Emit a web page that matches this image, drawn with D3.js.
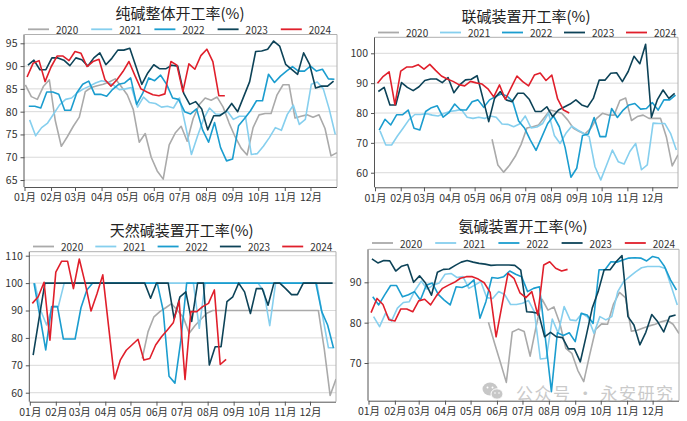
<!DOCTYPE html>
<html><head><meta charset="utf-8">
<script src="https://cdn.jsdelivr.net/npm/d3@7"></script>
<style>
body{margin:0;background:#fff}
svg text{font-family:"Noto Sans CJK SC","Noto Sans",sans-serif}
</style>
</head><body>
<svg id="chart" width="687" height="421"></svg>
<script>
// ---------------- data ----------------
const years = ["2020", "2021", "2022", "2023", "2024"];
const firstWeekDay = [1, 6, 5, 4, 3];          // day-of-year of each year's first weekly reading
const monthLabels = ["01月","02月","03月","04月","05月","06月","07月","08月","09月","10月","11月","12月"];
const monthStartDay = [0, 31, 59, 90, 120, 151, 181, 212, 243, 273, 304, 334];

// 纯碱整体开工率
const total2020 = [85.9,83.3,82.7,85.5,87,78,72.4,74.5,76.8,78.8,84.4,85.3,85.7,86,86.5,87.2,85.5,83.7,80.5,73.3,75.2,70,67,65.2,72.7,75.3,76.8,73.5,78.5,81.5,83,82.5,83.2,81,77.5,74.5,72,70.5,76.5,79.3,79.6,79.6,83.7,85.9,85.9,78.6,79,79.3,78.8,79.3,76.3,70.3,71];
const total2021 = [78.2,74.7,76.5,77.5,79.5,81.5,82.7,83,84.2,85,85.6,86.3,86.8,86.5,85.8,84.8,85,85.3,81,83.2,82,81.8,81,81.2,80.8,83,77,70.6,74.6,78.3,80.8,79.5,79.4,80.1,78.3,79,79,70.6,70.8,72.4,74.3,76.5,75.9,79.4,81.4,77.2,78.3,86,86.5,85,80.5,75];
const total2022 = [81.2,81.2,80.8,84.3,84.3,83.8,80.3,80.3,84.1,86,86.7,83.8,83.8,83.4,84.9,86,86.3,87.4,81.6,84,87.4,86.8,88,86,83,82.7,80,79.5,80.6,76,73.3,77.6,72.1,69.2,69.6,76.9,78.5,80.2,82.4,82.4,88.2,86.4,87.8,88.9,89.9,88.9,88.9,90,88.9,89.3,87.2,87.1];
const total2023 = [90.2,91.3,89.2,89.2,91.8,91.8,91.3,90.1,91.8,91.4,90,91.8,92.9,90.3,91.7,93.5,93.5,93.9,90,86,88.5,90.3,89.4,89.4,90.2,90,84,81.6,82.2,80.6,76,79.1,79.1,80,81.8,80,83.3,86.6,93.2,93.3,93.7,95.5,94.4,90.4,89.3,88.2,92.9,90.4,85.2,85.6,85.6,86.7];
const total2024 = [87.6,90.6,91.2,86.6,89.8,92.2,92.2,91.2,93.2,92.8,89.9,91,91.5,87,85.6,87,88.8,91,87.9,85,84.3,83.7,83.5,83.9,91,90.2,84.4,90.5,89.3,92.3,93.7,91,83.5,83.5];

// 联碱装置开工率
const lianjian2020 = [null,null,null,null,null,null,null,null,null,null,null,null,null,null,null,null,null,null,null,null,71.2,62.6,60.2,62.5,65.5,69.5,75,75.4,76,78.5,81,80.5,79.9,77.7,74.9,73.8,73,74.9,78.2,79.9,79.3,79.3,84.2,85,77.5,78.8,79.3,78.2,78.2,78.2,72,62.3,66];
const lianjian2021 = [74,69.3,69.3,72.3,75,77.8,79.5,79.5,79.8,79.3,79,79.8,80.5,80.8,81.2,78.6,78.2,78.6,78.2,79,78.6,76.3,76.2,75.4,76.3,79,75,75.3,76.5,80,72.5,69.8,73.2,75.6,74.3,73.2,72.1,62,57.6,62.6,67.6,63.7,62.9,67.1,69.8,61,62.6,76.6,76.5,76.5,73.2,67.6];
const lianjian2022 = [74.3,77.9,76,79.4,79.4,81,74.9,74.3,80.5,81.8,82.4,78.6,80.1,83,81,81,83.8,84.4,81.9,84.4,85.5,86.4,85.7,83.8,77.3,75,71,67.5,72,76.5,79,75.4,68.5,58.5,61.5,72.5,73,78.5,72.1,72.1,81.5,78.5,81,82.7,83.2,81.3,81.5,83.5,81,84.4,84.4,86];
const lianjian2023 = [87.2,88.6,82.7,82.7,90.2,88.6,87.5,88.8,90.9,91.4,91.4,90.2,91.9,86.8,89.4,91.1,91.3,92.5,84.9,77.1,84.9,87.2,84.4,83.8,86.6,86.6,84.5,80.5,80.5,82.1,78.8,81,82,83,84.4,82.7,82,84.9,91,91,93.3,93.5,90.5,93.9,99,96.5,103,78.6,84.4,87.7,84.9,86.6];
const lianjian2024 = [90,92.3,93.8,82.8,94,95.4,95.4,96.2,94.7,96.3,94.3,92.4,91.4,90.6,89.5,89.1,90.6,90.1,89.7,88.1,85.4,89.4,84.6,88.5,92.4,90.5,89.1,92.7,93.4,90.9,92.7,84.7,81,80];

// 天然碱装置开工率
const trona2020 = [null,null,null,null,null,null,null,null,null,null,null,null,null,null,null,null,null,null,null,72.5,82.3,87.7,89.6,91,92.5,90,87.5,81.7,84.5,86.8,89,90,90,90,90,90,90,90,90,90,90,90,90,90,90,90,90,90,90,90,76,59,65];
const trona2021 = [100,90,84.7,91.4,91.4,100,100,100,100,100,100,100,100,100,100,100,100,100,100,100,100,100,100,100,100,100,100,100,83.5,100,100,100,100,100,100,100,100,100,100,97,84.5,100,100,100,100,100,100,100,100,88,76.4,76.4];
const trona2022 = [100,88,75.6,91.4,91.4,79.6,79.6,79.6,91,97.5,100,100,100,100,100,100,100,100,100,100,100,100,90,66,63.5,79,100,100,100,100,100,100,100,100,100,100,100,100,100,100,100,100,100,100,100,100,100,100,100,89.6,84.7,76.3];
const trona2023 = [73.7,87,100,100,100,100,100,100,100,100,100,100,100,100,100,100,100,100,100,100,94.5,100,100,100,87,95,96.8,86,100,100,70.1,76.8,76.8,93.2,95,100,96.8,88.9,98,98,91.9,100,100,98,95.8,95.8,100,100,100,100,100,100];
const trona2024 = [92.6,95,100.3,79.2,104,108,108,98,108.8,100,89.8,96,103,84,65,72,75.5,77.5,79.5,71.9,72.5,77.4,80.4,82.9,85.5,93.5,64.8,89.6,89.6,91.4,92.6,97.5,70.3,72.2];

// 氨碱装置开工率
const ammonia2020 = [null,null,null,null,null,null,null,null,null,null,null,null,null,null,null,null,null,null,null,null,80.1,75,70.2,65.2,77.7,78.4,77.8,71.7,79,85.8,83.1,83.9,79.8,73.6,72.4,68.2,65.4,72,78.3,79.7,79.6,84.6,87.5,86.2,77.9,78.1,78.7,79.2,79.6,80.2,80.6,79.6,77.3];
const ammonia2021 = [81.5,79,82.3,80.4,83.6,85,85.2,88.1,90.3,88.3,89.3,89.8,92,92.2,91.2,91.4,88.5,89.3,90.2,86.2,86,87.7,87,84.5,84.5,84.8,85.5,82.7,71,71.2,80.9,77.4,84,80.7,80.5,82.3,81.3,77.4,81.5,80.7,81.5,87.7,90.2,91.4,92.6,93.6,93.9,93.9,93.9,93.4,88.9,84.4];
const ammonia2022 = [86.4,84.4,86.9,89.2,89.2,86.4,86.9,87.7,85.6,89.3,89.8,87,85.6,84.4,88.9,88.7,89.3,90.6,81.1,85.2,91.2,91,91.4,92.8,92,91.4,87.7,88.5,88.9,76,62.9,77.5,76.8,77.5,75.3,82.3,81.9,79.8,93.1,93.1,95.1,95,95.5,96,96.1,96,95.3,96.4,96,93.9,90.6,88.1];
const ammonia2023 = [95.8,94.8,95.4,95.3,92.8,94,94.4,90,91.6,89.8,86.8,92.5,93.2,93.3,94.2,95,95.4,95,94.7,94.5,94.2,94.3,94.3,94.3,94.2,93,82.7,82.6,82.3,76.5,77.6,76.5,76.3,73.5,73.5,70.3,76.8,83.6,87.7,93.1,93.1,95.1,96.6,81.5,79.4,74.5,77.6,82,80.2,77.7,81.5,81.9];
const ammonia2024 = [82.5,86,84.5,80.7,80.4,83.4,83.4,82.7,85.4,85.8,84.4,86.7,88.5,89.3,90,91,91.4,91.4,90.8,89.9,87.5,76.5,84.4,92.2,91,87.4,86.2,87.7,81.9,94.3,95.1,93.5,92.8,93.2];

const panelTitles = ["纯碱整体开工率(%)", "联碱装置开工率(%)", "天然碱装置开工率(%)", "氨碱装置开工率(%)"];
const panelSeries = [
  [total2020, total2021, total2022, total2023, total2024],
  [lianjian2020, lianjian2021, lianjian2022, lianjian2023, lianjian2024],
  [trona2020, trona2021, trona2022, trona2023, trona2024],
  [ammonia2020, ammonia2021, ammonia2022, ammonia2023, ammonia2024]
];
const panelYTicks = [
  [65, 70, 75, 80, 85, 90, 95],
  [60, 70, 80, 90, 100],
  [60, 70, 80, 90, 100, 110],
  [70, 80, 90]
];
const watermarkText = "公众号 · 永安研究";

// ---------------- layout / style ----------------
const yearColors = ["#aaaaaa", "#86cfee", "#1b9dcf", "#0d4358", "#e01f2b"];
const layout = [
  {L: 24.5, R: 337, T: 34.5, B: 187, yDom: [63.47, 96.93], titleX: 180, titleY: 12.5, legY: 29.3, legX0: 28, legStep: 63.2},
  {L: 375, R: 678, T: 37.3, B: 187.3, yDom: [55.12, 105.36], titleX: 526, titleY: 15.5, legY: 32.5, legX0: 378, legStep: 62},
  {L: 29.8, R: 336, T: 251.7, B: 401.7, yDom: [56.72, 111.46], titleX: 181.7, titleY: 229.3, legY: 246.5, legX0: 33, legStep: 62.3},
  {L: 368.5, R: 679, T: 249.3, B: 400.7, yDom: [60.66, 98.18], titleX: 523, titleY: 225.5, legY: 243, legX0: 372, legStep: 63.2}
];

const FONT = '"Noto Sans CJK SC","Noto Sans",sans-serif';
const svg = d3.select("#chart");
svg.append("rect").attr("width", 687).attr("height", 421).attr("fill", "#fff");

layout.forEach((p, pi) => {
  const x = d3.scaleLinear().domain([0, 365]).range([p.L, p.R]);
  const y = d3.scaleLinear().domain(p.yDom).range([p.B, p.T]);
  const g = svg.append("g");

  // grid
  g.append("g").selectAll("line").data(panelYTicks[pi]).join("line")
    .attr("x1", p.L).attr("x2", p.R)
    .attr("y1", d => y(d)).attr("y2", d => y(d))
    .attr("stroke", "#d9d9d9").attr("stroke-width", 1);

  // frame top/right
  g.append("path")
    .attr("d", `M${p.L},${p.T}H${p.R}V${p.B}`)
    .attr("fill", "none").attr("stroke", "#b0b0b0").attr("stroke-width", 1);

  // axes
  const yAxis = d3.axisLeft(y).tickValues(panelYTicks[pi]).tickSize(4).tickPadding(3).tickFormat(d3.format("d"));
  const ya = g.append("g").attr("transform", `translate(${p.L},0)`).call(yAxis);
  ya.select(".domain").attr("d", `M-0.5,${p.T}V${p.B}`).attr("stroke", "#555");
  ya.selectAll(".tick line").attr("stroke", "#555");
  ya.selectAll(".tick text").attr("font-size", 10.5).attr("fill", "#333").style("font-family", FONT);

  const xAxis = d3.axisBottom(x).tickValues(monthStartDay).tickSize(4).tickPadding(3)
    .tickFormat((d, i) => monthLabels[i]);
  const xa = g.append("g").attr("transform", `translate(0,${p.B})`).call(xAxis);
  xa.select(".domain").attr("d", `M${p.L},0.5H${p.R}`).attr("stroke", "#555");
  xa.selectAll(".tick line").attr("stroke", "#555");
  xa.selectAll(".tick text").attr("font-size", 10.5).attr("fill", "#333").style("font-family", FONT);

  // clip
  const clipId = "clip" + pi;
  svg.append("clipPath").attr("id", clipId).append("rect")
    .attr("x", p.L).attr("y", p.T).attr("width", p.R - p.L).attr("height", p.B - p.T);

  // series
  const lg = g.append("g").attr("clip-path", `url(#${clipId})`);
  panelSeries[pi].forEach((vals, si) => {
    const line = d3.line()
      .defined(d => d != null)
      .x((d, i) => x(firstWeekDay[si] + 7 * i))
      .y(d => y(d));
    lg.append("path").datum(vals)
      .attr("d", line)
      .attr("fill", "none")
      .attr("stroke", yearColors[si])
      .attr("stroke-width", 1.6)
      .attr("stroke-linejoin", "round");
  });

  // title
  g.append("text").attr("x", p.titleX).attr("y", p.titleY)
    .attr("text-anchor", "middle").attr("dominant-baseline", "central")
    .attr("font-size", 15).attr("fill", "#222").text(panelTitles[pi]);

  // legend
  years.forEach((yr, si) => {
    const lx = p.legX0 + si * p.legStep;
    g.append("line").attr("x1", lx).attr("x2", lx + 21)
      .attr("y1", p.legY).attr("y2", p.legY)
      .attr("stroke", yearColors[si]).attr("stroke-width", 1.8);
    g.append("text").attr("x", lx + 28).attr("y", p.legY)
      .attr("dominant-baseline", "central").attr("font-size", 10).attr("fill", "#333").text(yr);
  });
});

// watermark (panel 4)
const wm = svg.append("g").attr("opacity", 0.55);
wm.append("ellipse").attr("cx", 490).attr("cy", 389).attr("rx", 7.5).attr("ry", 6.5).attr("fill", "#9a9a9a");
wm.append("ellipse").attr("cx", 497).attr("cy", 394).attr("rx", 6).attr("ry", 5.2).attr("fill", "#9a9a9a").attr("stroke", "#fff").attr("stroke-width", 1);
wm.append("circle").attr("cx", 487.5).attr("cy", 387.5).attr("r", 1).attr("fill", "#fff");
wm.append("circle").attr("cx", 492.5).attr("cy", 387.5).attr("r", 1).attr("fill", "#fff");
wm.append("circle").attr("cx", 495).attr("cy", 393).attr("r", 0.8).attr("fill", "#fff");
wm.append("circle").attr("cx", 499).attr("cy", 393).attr("r", 0.8).attr("fill", "#fff");
wm.append("text").attr("x", 516).attr("y", 392).attr("dominant-baseline", "central")
  .attr("font-size", 17).attr("letter-spacing", 1.5).attr("fill", "#a0a0a0").text(watermarkText);
</script>
</body></html>
